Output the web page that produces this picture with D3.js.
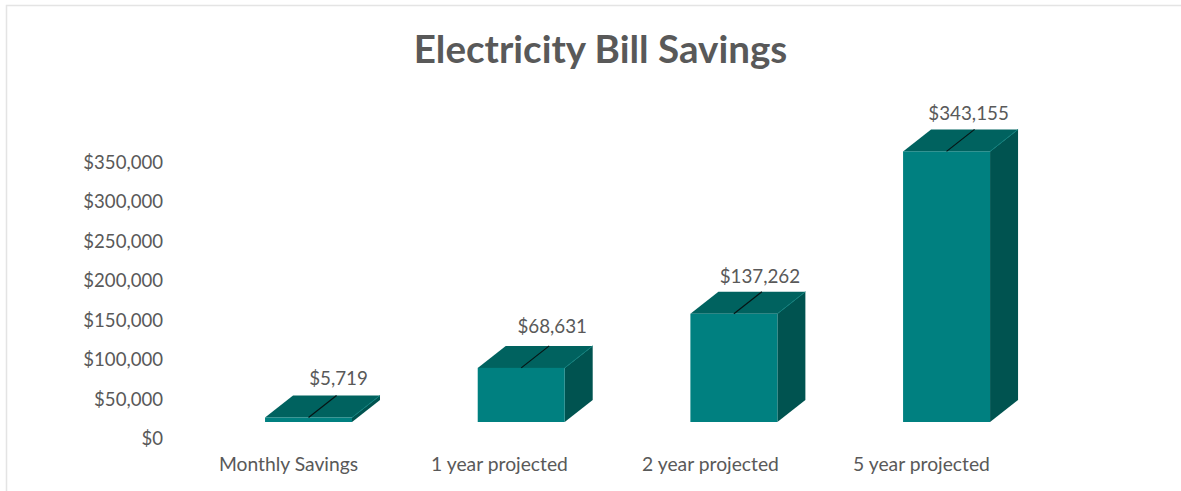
<!DOCTYPE html>
<html><head><meta charset="utf-8">
<script src="https://cdn.jsdelivr.net/npm/d3@7"></script>
<style>html,body{margin:0;padding:0;background:#fff}svg{display:block}text{font-family:Lato,"Open Sans",sans-serif;fill:#595959}</style>
</head><body><svg id="c" width="1181" height="491"></svg>
<script>
const categories = ["Monthly Savings","1 year projected","2 year projected","5 year projected"];
const values = [5719,68631,137262,343155];
const valueLabels = ["$5,719","$68,631","$137,262","$343,155"];
const tickValues = [0,50000,100000,150000,200000,250000,300000,350000];
const titleText = "Electricity Bill Savings";

const depthX=28, depthY=-22;
const labelNudge=[[2,-17],[3,-19],[-2,-15],[-6,-16]];
const svg=d3.select("#c");
svg.append("path").attr("d",`M6.5,491V5.5H1181`).attr("fill","none").attr("stroke","#e4e4e4").attr("stroke-width",1.5);
svg.append("text").attr("x",600.5).attr("y",63).attr("text-anchor","middle")
  .attr("font-size",38.6).attr("font-weight",700).text(titleText);

const x=d3.scaleBand().domain(categories).range([202.2,1052.9]).paddingInner(0.591).paddingOuter(0.2955);
const xLabels=d3.scalePoint().domain(categories).range([288,921]);
const y=d3.scaleLinear().domain([0,350000]).range([422,146]);
const yTicks=d3.scaleLinear().domain([0,350000]).range([438,162]);

const ya=svg.append("g").attr("transform","translate(163,0)")
  .call(d3.axisLeft(yTicks).tickValues(tickValues).tickSize(0).tickFormat(d=>"$"+d3.format(",")(d)));
ya.select(".domain").remove();
ya.selectAll("text").attr("font-size",18.6).attr("dy","0.35em").attr("x",0).style("font-family","Lato");

const xa=svg.append("g").attr("transform","translate(0,464)")
  .call(d3.axisBottom(xLabels).tickSize(0));
xa.select(".domain").remove();
xa.selectAll("text").attr("font-size",19.3).attr("y",0).attr("dy","0.35em").style("font-family","Lato");

const bars=svg.append("g").selectAll("g").data(categories.map((c,i)=>({c,v:values[i],l:valueLabels[i],n:labelNudge[i]}))).join("g");
const poly=(pts)=>pts.map(p=>p.join(",")).join(" ");
bars.each(function(d){
  const g=d3.select(this), x0=x(d.c), x1=x0+x.bandwidth(), yt=y(d.v), yb=y(0);
  g.append("polygon").attr("points",poly([[x1,yt],[x1+depthX,yt+depthY],[x1+depthX,yb+depthY],[x1,yb]])).attr("fill","#005350");
  g.append("polygon").attr("points",poly([[x0,yt],[x0+depthX,yt+depthY],[x1+depthX,yt+depthY],[x1,yt]])).attr("fill","#00625f");
  g.append("polyline").attr("points",poly([[x1,yt],[x1+depthX,yt+depthY]])).attr("fill","none").attr("stroke","#0e7f7c").attr("stroke-width",1);
  g.append("rect").attr("x",x0).attr("y",yt).attr("width",x.bandwidth()).attr("height",yb-yt).attr("fill","#008080");
  const cx=(x0+x1)/2;
  g.append("line").attr("x1",cx).attr("y1",yt).attr("x2",cx+depthX).attr("y2",yt+depthY).attr("stroke","#061414").attr("stroke-width",1.2);
  g.append("text").attr("x",cx+depthX+d.n[0]).attr("y",yt+depthY+d.n[1]).attr("dy","0.35em").attr("text-anchor","middle").attr("font-size",18.8).text(d.l);
});
</script></body></html>
